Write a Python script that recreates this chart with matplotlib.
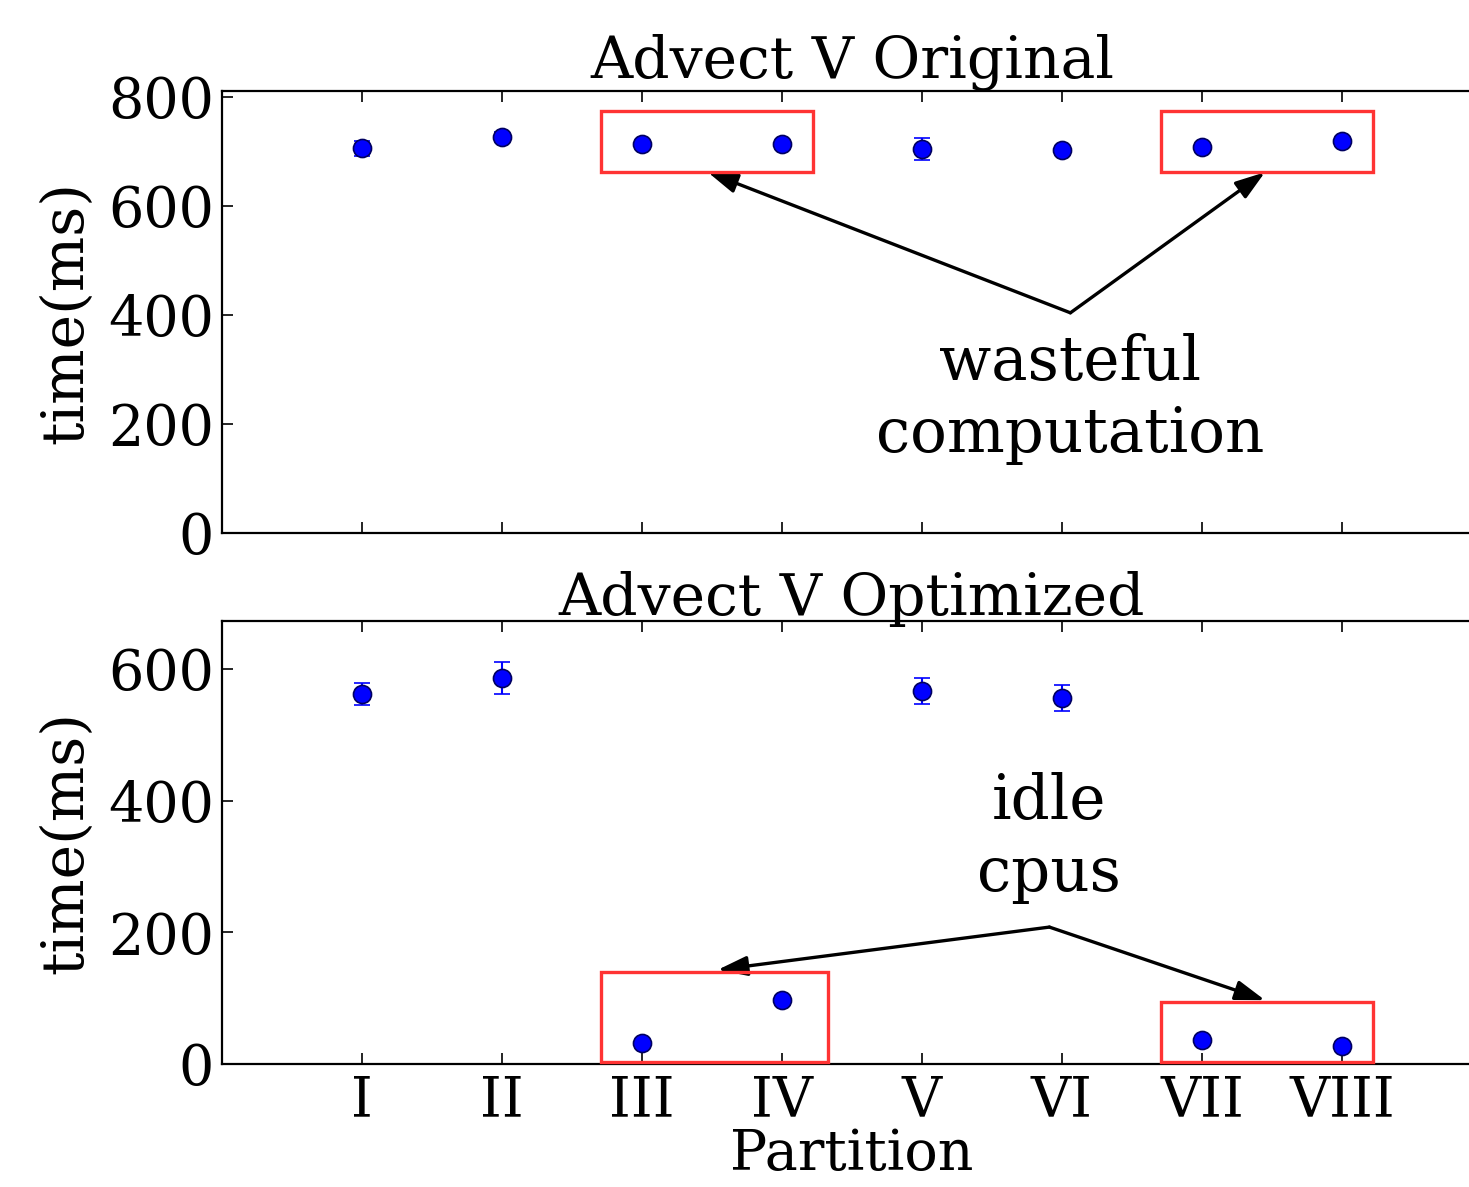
import numpy as np
import matplotlib
matplotlib.use("Agg")
import matplotlib.pyplot as plt
from matplotlib.patches import Rectangle

partitions = ["I", "II", "III", "IV", "V", "VI", "VII", "VIII"]

# Advect V original (ms)
orig_time = [706, 727, 714, 714, 705, 703, 708, 719]
orig_err = [14, 8, 6, 6, 20, 6, 6, 6]

# Advect V optimized (ms)
opt_time = [562, 586, 32, 97, 567, 556, 36, 27]
opt_err = [17, 24, 4, 4, 20, 20, 4, 4]

plt.rcParams["font.family"] = ["DejaVu Serif"]
plt.rcParams["font.size"] = 40

fig = plt.figure(figsize=(14.69, 11.87), dpi=100)
W, H = 1469.0, 1187.0


def px_axes(left, top, right, bottom):
    return fig.add_axes([left / W, 1 - bottom / H, (right - left) / W, (bottom - top) / H])


ax1 = px_axes(222, 91, 1482, 533)
ax2 = px_axes(222, 621, 1482, 1064)

x = np.arange(1, len(partitions) + 1)

for ax, t, e, ymax, ticks, title in [
    (ax1, orig_time, orig_err, 811, [0, 200, 400, 600, 800], "Advect V Original"),
    (ax2, opt_time, opt_err, 673, [0, 200, 400, 600], "Advect V Optimized"),
]:
    ax.errorbar(x, t, yerr=e, fmt="o", color="blue", ecolor="blue", mec="#000060",
                ms=13, mew=1.2, capsize=6, elinewidth=1.5, capthick=1.5, zorder=3)
    ax.set_xlim(0, 9)
    ax.set_ylim(0, ymax)
    ax.set_yticks(ticks)
    ax.set_xticks(x)
    ax.set_ylabel("time(ms)", fontsize=42, labelpad=10)
    ax.set_title(title, fontsize=42, pad=4)
    ax.tick_params(direction="in", top=True, right=True, length=8, width=1.2, pad=6)
    for s in ax.spines.values():
        s.set_linewidth(1.6)

ax1.set_xticklabels([])
ax2.set_xticklabels(partitions)
ax2.tick_params(axis="x", pad=7)
ax2.set_xlabel("Partition", labelpad=-1)

box_kw = dict(fill=False, edgecolor="#ff3333", linewidth=2.4, clip_on=False, zorder=4)
ax1.add_patch(Rectangle((2.71, 662), 1.51, 112, **box_kw))
ax1.add_patch(Rectangle((6.71, 662), 1.51, 112, **box_kw))
ax2.add_patch(Rectangle((2.71, 3), 1.62, 137, **box_kw))
ax2.add_patch(Rectangle((6.71, 3), 1.51, 91, **box_kw))

arrow_kw = dict(arrowstyle="-|>,head_length=0.45,head_width=0.15", color="black", lw=2.4,
                shrinkA=0, shrinkB=0)
ax1.annotate("", xy=(3.47, 662), xytext=(6.06, 404), arrowprops=arrow_kw)
ax1.annotate("", xy=(7.45, 662), xytext=(6.06, 404), arrowprops=arrow_kw)
ax1.text(6.06, 246, "wasteful\ncomputation", ha="center", va="center", fontsize=44,
         linespacing=1.25)

ax2.annotate("", xy=(3.54, 143), xytext=(5.91, 208), arrowprops=arrow_kw)
ax2.annotate("", xy=(7.45, 97), xytext=(5.91, 208), arrowprops=arrow_kw)
ax2.text(5.91, 343, "idle\ncpus", ha="center", va="center", fontsize=44, linespacing=1.25)

fig.savefig("out.png", dpi=100)
